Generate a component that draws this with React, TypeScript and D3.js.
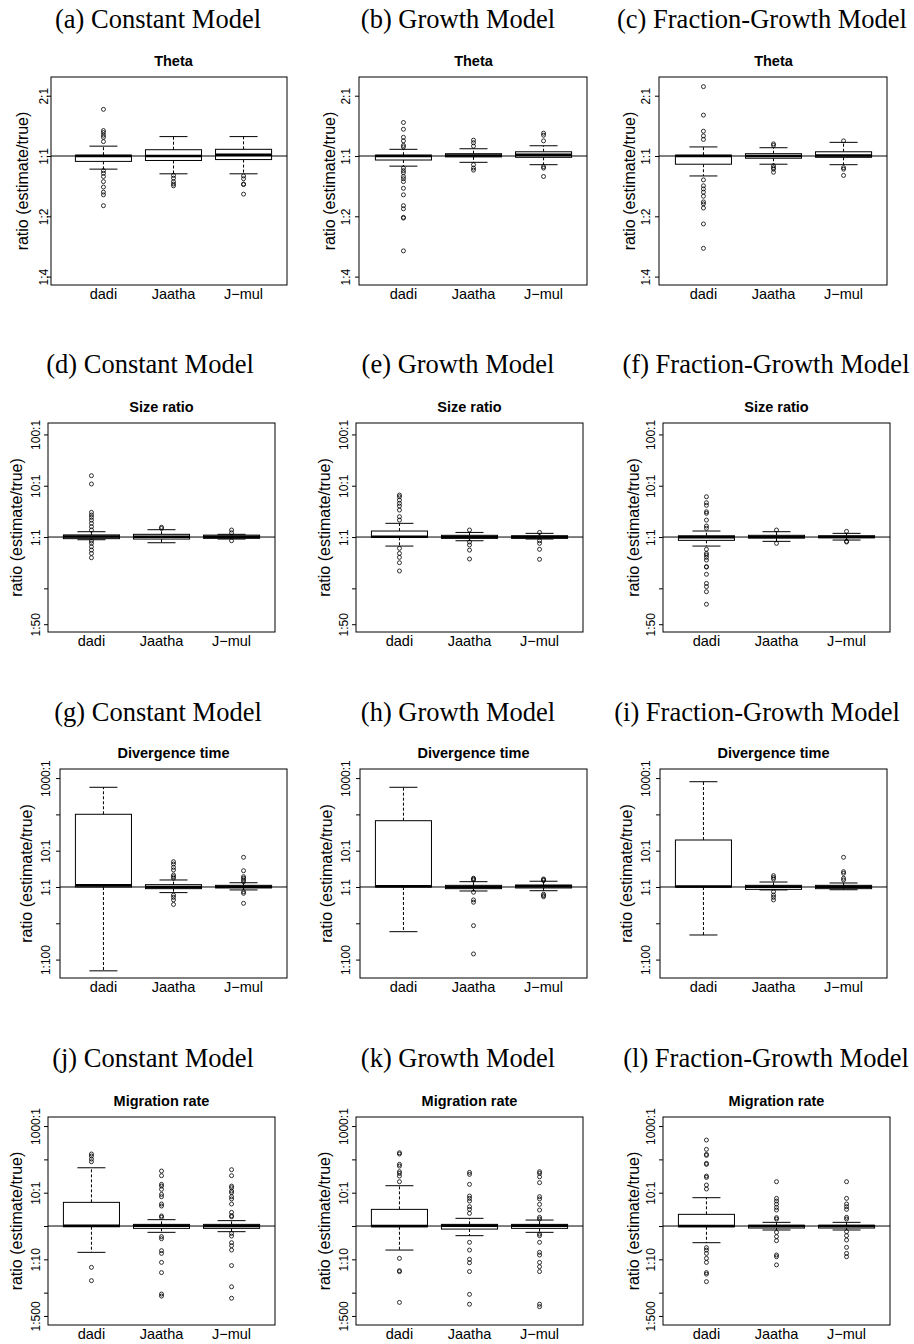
import * as d3 from 'd3'
import React, { useEffect, useRef } from 'react'

// categories
const methods = ['dadi', 'Jaatha', 'J\u2212mul']
const models = ['Constant Model', 'Growth Model', 'Fraction-Growth Model']
const params = ['Theta', 'Size ratio', 'Divergence time', 'Migration rate']
const letters = ['a', 'b', 'c', 'd', 'e', 'f', 'g', 'h', 'i', 'j', 'k', 'l']

// y axis ticks per parameter row (ratio estimate/true)
const thetaTicks = [2, 1, 0.5, 0.25]
const thetaLabels = ['2:1', '1:1', '1:2', '1:4']
const sizeTicks = [100, 10, 1, 0.1, 0.02]
const sizeLabels = ['100:1', '10:1', '1:1', '', '1:50']
const divTicks = [1000, 100, 10, 1, 0.1, 0.01]
const divLabels = ['1000:1', '', '10:1', '1:1', '', '1:100']
const migTicks = [1000, 100, 10, 1, 0.1, 0.01, 0.002]
const migLabels = ['1000:1', '', '10:1', '', '1:10', '', '1:500']

// axis ranges per row
const thetaDomain = [0.227, 2.48]
const sizeDomain = [0.0141, 167]
const divDomain = [0.00311, 1780]
const migDomain = [0.00107, 1870]

// box stats per method: [lower whisker, q1, median, q3, upper whisker]
const statsA = [[0.86, 0.94, 1.0, 1.01, 1.12], [0.815, 0.95, 1.0, 1.075, 1.25], [0.815, 0.96, 1.015, 1.08, 1.25]]
const outliersA = [
  [1.71, 1.34, 1.31, 1.27, 1.24, 1.18, 0.845, 0.82, 0.79, 0.745, 0.7, 0.66, 0.64, 0.565],
  [0.8, 0.775, 0.745, 0.725, 0.71],
  [0.795, 0.77, 0.725, 0.72, 0.645]
]
const statsB = [[0.89, 0.955, 1.0, 1.01, 1.08], [0.93, 0.99, 1.005, 1.027, 1.087], [0.905, 0.985, 1.015, 1.05, 1.125]]
const outliersB = [
  [1.47, 1.36, 1.24, 1.19, 1.13, 1.11, 0.87, 0.845, 0.825, 0.79, 0.77, 0.745, 0.69, 0.64, 0.565, 0.545, 0.494, 0.49, 0.336],
  [1.2, 1.165, 1.12, 0.905, 0.87, 0.85],
  [1.3, 1.27, 1.19, 0.885, 0.87, 0.79]
]
const statsC = [[0.795, 0.91, 1.0, 1.01, 1.11], [0.91, 0.975, 1.0, 1.027, 1.1], [0.905, 0.985, 1.005, 1.05, 1.17]]
const outliersC = [
  [2.22, 1.6, 1.33, 1.26, 1.21, 0.76, 0.71, 0.685, 0.66, 0.63, 0.59, 0.577, 0.55, 0.458, 0.346],
  [1.15, 1.13, 0.895, 0.875, 0.86, 0.83],
  [1.19, 0.875, 0.86, 0.8]
]
const statsD = [[0.886, 0.93, 1.03, 1.1, 1.27], [0.774, 0.914, 1.01, 1.13, 1.39], [0.914, 0.943, 1.01, 1.09, 1.13]]
const outliersD = [
  [15.7, 10.8, 3.03, 2.69, 2.42, 2.14, 1.85, 1.59, 1.37, 0.836, 0.754, 0.647, 0.557, 0.48, 0.395],
  [1.55, 1.47],
  [1.37, 1.21, 0.847]
]
const statsE = [[0.667, 0.987, 1.01, 1.31, 1.85], [0.847, 0.943, 1.0, 1.08, 1.23], [0.914, 0.943, 1.0, 1.06, 1.18]]
const outliersE = [
  [6.58, 6.1, 5.26, 4.54, 4.02, 3.36, 2.49, 2.14, 0.602, 0.48, 0.402, 0.316, 0.218],
  [1.37, 0.8, 0.7, 0.557, 0.373],
  [1.23, 0.847, 0.754, 0.576, 0.368]
]
const statsF = [[0.667, 0.862, 0.987, 1.06, 1.31], [0.824, 0.956, 1.0, 1.08, 1.27], [0.874, 0.97, 1.0, 1.06, 1.18]]
const outliersF = [
  [6.1, 4.66, 4.15, 3.11, 2.9, 2.14, 1.64, 1.48, 0.576, 0.48, 0.446, 0.402, 0.356, 0.264, 0.26, 0.188, 0.125, 0.108, 0.086, 0.049],
  [1.37, 0.754],
  [1.29, 0.824, 0.8]
]
const statsG = [[0.0049, 1.0, 1.11, 100.7, 558], [0.7, 0.9, 1.0, 1.16, 1.56], [0.83, 0.94, 1.02, 1.11, 1.31]]
const outliersG = [
  [],
  [4.97, 4.3, 3.48, 2.94, 2.14, 1.92, 1.74, 0.6, 0.52, 0.44, 0.33],
  [6.58, 2.81, 1.92, 1.74, 1.56, 1.4, 0.74, 0.67, 0.355]
]
const statsH = [[0.0587, 1.0, 1.04, 67, 558], [0.776, 0.9, 1.0, 1.11, 1.4], [0.79, 0.94, 1.05, 1.135, 1.44]]
const outliersH = [
  [],
  [1.74, 1.65, 1.56, 0.715, 0.44, 0.38, 0.086, 0.0143],
  [1.66, 1.58, 1.5, 0.63, 0.58, 0.54]
]
const statsI = [[0.0476, 1.0, 1.03, 19.7, 795], [0.83, 0.86, 1.01, 1.11, 1.37], [0.84, 0.9, 1.01, 1.11, 1.29]]
const outliersI = [
  [],
  [2.05, 1.83, 1.65, 0.74, 0.6, 0.52, 0.44],
  [6.58, 2.64, 2.38, 1.74, 1.56]
]
const statsJ = [[0.162, 0.95, 1.02, 5.13, 56], [0.646, 0.85, 1.02, 1.12, 1.55], [0.676, 0.85, 1.0, 1.12, 1.45]]
const outliersJ = [
  [145, 126, 102, 85, 0.0575, 0.0229],
  [44.7, 32.4, 17.8, 15.8, 12.6, 8.9, 7.6, 4.57, 3.98, 2.0, 1.82, 0.48, 0.417, 0.182, 0.151, 0.081, 0.04, 0.0091, 0.0079],
  [49, 32.4, 15.8, 14.1, 11.2, 10, 7.6, 6.5, 4.57, 2.57, 2.04, 1.9, 0.6, 0.5, 0.316, 0.257, 0.19, 0.065, 0.015, 0.0068]
]
const statsK = [[0.19, 0.95, 1.0, 3.16, 16.2], [0.513, 0.81, 1.02, 1.12, 1.7], [0.646, 0.85, 1.02, 1.12, 1.51]]
const outliersK = [
  [158, 145, 70.8, 63, 42.7, 38, 31.6, 21.4, 0.107, 0.0457, 0.0427, 0.0051],
  [40.7, 35.5, 17.8, 7.94, 6.76, 5.62, 3.8, 3.16, 2.4, 0.324, 0.19, 0.1, 0.079, 0.043, 0.0089, 0.0045],
  [42.7, 38, 30, 20, 7.6, 6.5, 4.47, 3.02, 1.82, 1.62, 0.575, 0.513, 0.324, 0.162, 0.135, 0.081, 0.0603, 0.043, 0.0045, 0.0038]
]
const statsL = [[0.316, 0.95, 1.0, 2.24, 7.08], [0.76, 0.87, 1.0, 1.05, 1.29], [0.76, 0.87, 1.0, 1.05, 1.29]]
const outliersL = [
  [380, 200, 141, 132, 76, 70.8, 31.6, 28.8, 17, 12.9, 0.224, 0.19, 0.151, 0.107, 0.081, 0.04, 0.036, 0.0214],
  [21.4, 6.76, 5.62, 4.57, 3.63, 3.02, 1.78, 1.62, 0.646, 0.48, 0.363, 0.135, 0.12, 0.068],
  [21.4, 6.76, 4.57, 3.8, 3.16, 1.82, 1.62, 0.676, 0.513, 0.38, 0.229, 0.151, 0.12]
]

const allStats = [statsA, statsB, statsC, statsD, statsE, statsF, statsG, statsH, statsI, statsJ, statsK, statsL]
const allOutliers = [outliersA, outliersB, outliersC, outliersD, outliersE, outliersF, outliersG, outliersH, outliersI, outliersJ, outliersK, outliersL]
const rowTicks = [thetaTicks, sizeTicks, divTicks, migTicks]
const rowLabels = [thetaLabels, sizeLabels, divLabels, migLabels]
const rowDomains = [thetaDomain, sizeDomain, divDomain, migDomain]

// layout (pixels)
const W = 914
const H = 1344
const rowTop = [77, 423, 769, 1117]
const rowBottom = [285, 632, 978, 1325]
const captionY = [28, 373, 721, 1067]
const frameLeft = [51, 359, 659, 48, 356, 663, 60, 360, 660, 48, 356, 663]
const frameRight = [287, 587, 887, 275, 583, 890, 287, 587, 887, 275, 583, 890]
const tickX = [48, 350, 650, 40, 348, 655, 50, 350, 650, 40, 348, 655]
const ylabX = [28, 335, 635, 22, 330, 639, 32, 332, 632, 22, 330, 639]
const captionX = [158, 458, 762, 150, 458, 766, 158, 458, 757, 153, 458, 766]

const SANS = 'Liberation Sans, Arial, Helvetica, sans-serif'
const SERIF = 'Liberation Serif, Times New Roman, serif'

export default function App() {
  const svgRef = useRef<SVGSVGElement>(null)

  useEffect(() => {
    if (!svgRef.current) return
    const svg = d3.select(svgRef.current)
    svg.selectAll('*').remove()
    svg.append('rect').attr('width', W).attr('height', H).attr('fill', 'white')

    for (let p = 0; p < 12; p++) {
      const row = Math.floor(p / 3)
      const col = p % 3
      const fl = frameLeft[p]
      const fr = frameRight[p]
      const ft = rowTop[row]
      const fb = rowBottom[row]
      const sl = fr - 227
      const g = svg.append('g')

      const x = d3.scaleLinear().domain([0.38, 3.62]).range([sl, fr])
      const y = d3.scaleLog().domain(rowDomains[row]).range([fb, ft])
      const unit = x(2) - x(1)

      // caption
      g.append('text')
        .attr('x', captionX[p])
        .attr('y', captionY[row])
        .attr('text-anchor', 'middle')
        .attr('font-family', SERIF)
        .attr('font-size', 26.5)
        .text(`(${letters[p]}) ${models[col]}`)

      // title
      g.append('text')
        .attr('x', (sl + fr) / 2)
        .attr('y', ft - 11)
        .attr('text-anchor', 'middle')
        .attr('font-family', SANS)
        .attr('font-weight', 'bold')
        .attr('font-size', 14.5)
        .text(params[row])

      // y axis
      const labels = rowLabels[row]
      const axis = d3.axisLeft(y)
        .tickValues(rowTicks[row])
        .tickFormat((_d, i) => labels[i])
        .tickSize(4)
      const ag = g.append('g')
        .attr('transform', `translate(${fl},0)`)
        .call(axis)
      ag.attr('font-size', 12).attr('font-family', SANS)
      ag.select('.domain').remove()
      ag.selectAll('line').attr('stroke', '#000')
      ag.selectAll('text')
        .attr('x', null)
        .attr('dy', null)
        .attr('fill', '#000')
        .attr('text-anchor', 'middle')
        .attr('transform', `translate(${tickX[p] - fl},0) rotate(-90)`)

      // y label
      g.append('text')
        .attr('transform', `translate(${ylabX[p]},${(ft + fb) / 2}) rotate(-90)`)
        .attr('text-anchor', 'middle')
        .attr('font-family', SANS)
        .attr('font-size', 16)
        .text('ratio (estimate/true)')

      // x labels
      methods.forEach((m, i) => {
        g.append('text')
          .attr('x', x(i + 1))
          .attr('y', fb + 14)
          .attr('text-anchor', 'middle')
          .attr('font-family', SANS)
          .attr('font-size', 14.5)
          .text(m)
      })

      // boxes
      const stats = allStats[p]
      const outs = allOutliers[p]
      stats.forEach((s, i) => {
        const cx = x(i + 1)
        const [lw, q1, med, q3, uw] = s
        const bg = g.append('g')
        bg.append('line')
          .attr('x1', cx).attr('x2', cx)
          .attr('y1', y(q3)).attr('y2', y(uw))
          .attr('stroke', '#000').attr('stroke-dasharray', '3,2')
        bg.append('line')
          .attr('x1', cx).attr('x2', cx)
          .attr('y1', y(q1)).attr('y2', y(lw))
          .attr('stroke', '#000').attr('stroke-dasharray', '3,2')
        ;[lw, uw].forEach(v => {
          bg.append('line')
            .attr('x1', cx - unit * 0.2).attr('x2', cx + unit * 0.2)
            .attr('y1', y(v)).attr('y2', y(v))
            .attr('stroke', '#000')
        })
        bg.append('rect')
          .attr('x', cx - unit * 0.4)
          .attr('width', unit * 0.8)
          .attr('y', y(q3))
          .attr('height', Math.max(0.5, y(q1) - y(q3)))
          .attr('fill', 'white')
          .attr('stroke', '#000')
        bg.append('line')
          .attr('x1', cx - unit * 0.4).attr('x2', cx + unit * 0.4)
          .attr('y1', y(med)).attr('y2', y(med))
          .attr('stroke', '#000').attr('stroke-width', 2.5)
        bg.selectAll('circle.out')
          .data(outs[i])
          .enter()
          .append('circle')
          .attr('cx', cx)
          .attr('cy', d => y(d))
          .attr('r', 2)
          .attr('fill', 'none')
          .attr('stroke', '#000')
          .attr('stroke-width', 0.8)
      })

      // reference line at 1:1
      g.append('line')
        .attr('x1', fl).attr('x2', fr)
        .attr('y1', y(1)).attr('y2', y(1))
        .attr('stroke', '#000')

      // frame
      g.append('rect')
        .attr('x', fl).attr('y', ft)
        .attr('width', fr - fl).attr('height', fb - ft)
        .attr('fill', 'none')
        .attr('stroke', '#000')
    }
  }, [])

  return (
    <svg
      ref={svgRef}
      width={W}
      height={H}
      style={{ position: 'absolute', left: 0, top: 0 }}
      role="img"
      aria-label="Boxplots of estimate/true ratios"
    />
  )
}
